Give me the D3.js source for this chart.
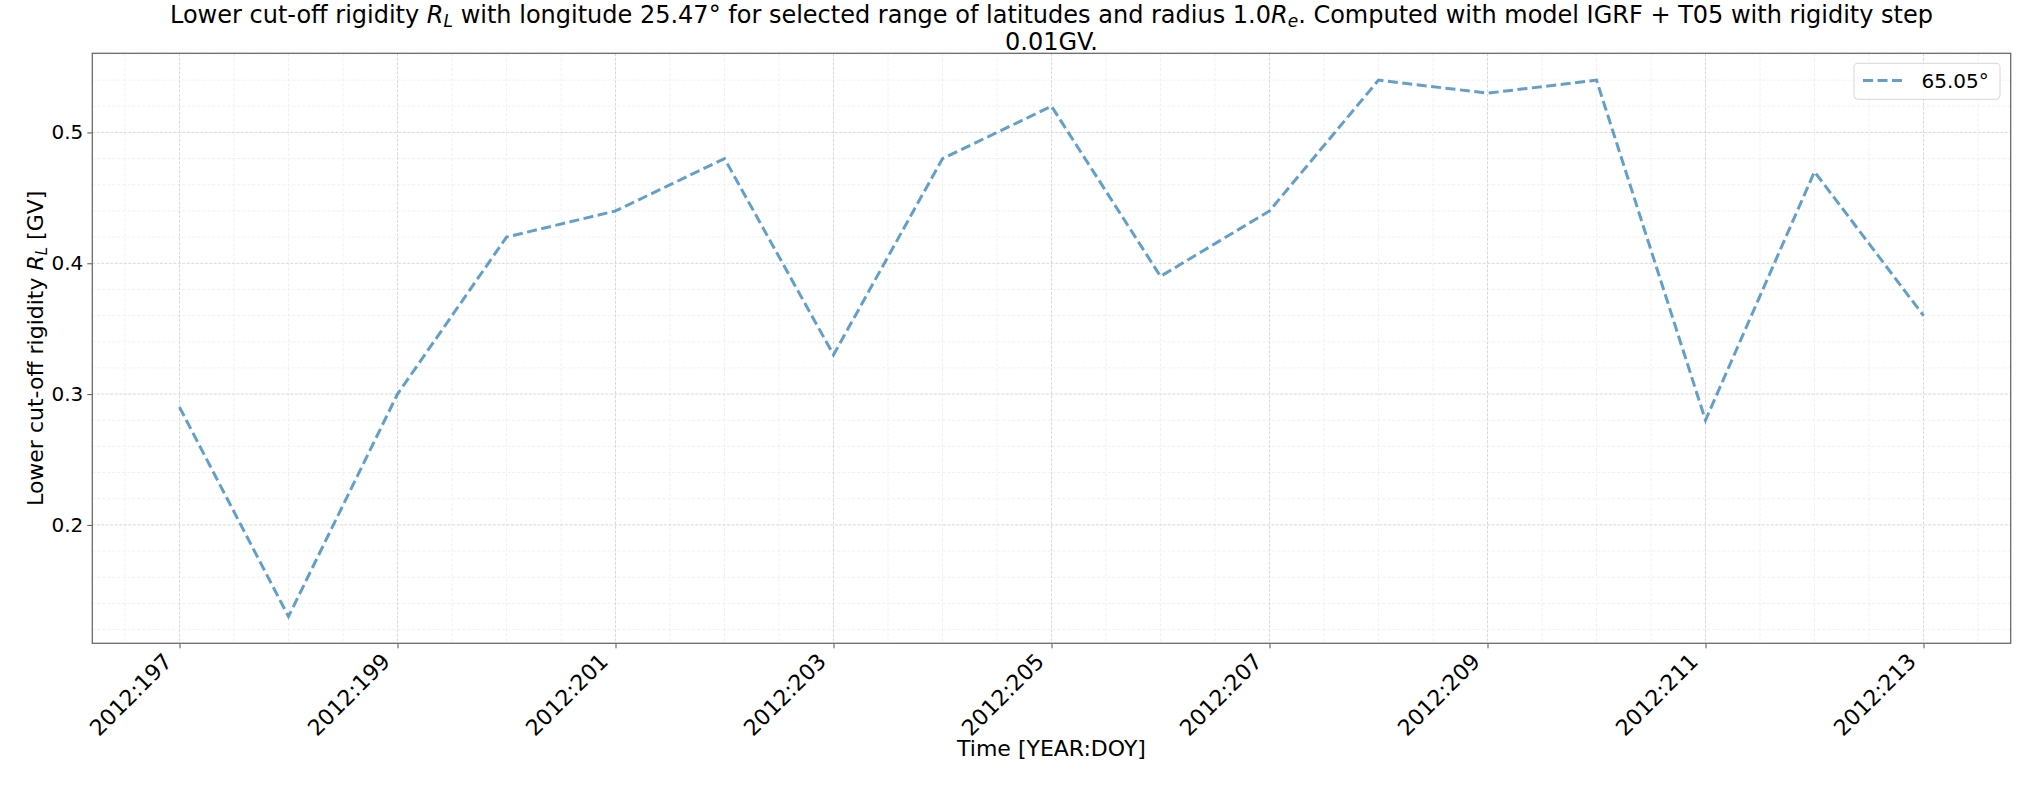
<!DOCTYPE html>
<html>
<head>
<meta charset="utf-8">
<script src="https://cdn.jsdelivr.net/npm/d3@7/dist/d3.min.js"></script>
<style>
  html, body { margin: 0; padding: 0; background: #fff; }
  svg { display: block; font-family: "DejaVu Sans", sans-serif; }
</style>
</head>
<body>
<svg id="chart" width="2035" height="785"></svg>
<script>
// ---- data ----
const days = [197, 198, 199, 200, 201, 202, 203, 204, 205, 206, 207, 208, 209, 210, 211, 212, 213];
const rigidity = [0.29, 0.13, 0.30, 0.42, 0.44, 0.48, 0.33, 0.48, 0.52, 0.39, 0.44, 0.54, 0.53, 0.54, 0.28, 0.47, 0.36];
const year = 2012;
const xTickDays = [197, 199, 201, 203, 205, 207, 209, 211, 213];
const yTicks = [0.2, 0.3, 0.4, 0.5];
const seriesLabel = "65.05°";

// ---- layout ----
const W = 2035, H = 785;
const m = { left: 92.3, right: 2035 - 2010.7, top: 53.3, bottom: 785 - 643.3 };
const svg = d3.select("#chart");

const xMin = d3.min(days), xMax = d3.max(days);
const xPad = (xMax - xMin) * 0.05;
const yMin = d3.min(rigidity), yMax = d3.max(rigidity);
const yPad = (yMax - yMin) * 0.05;

const x = d3.scaleLinear().domain([xMin - xPad, xMax + xPad]).range([m.left, W - m.right]);
const y = d3.scaleLinear().domain([yMin - yPad, yMax + yPad]).range([H - m.bottom, m.top]);

// minor ticks
const xMinor = d3.range(Math.ceil((xMin - xPad) * 2) / 2, xMax + xPad, 0.5).filter(d => !xTickDays.includes(d));
const yMinor = d3.range(0.12, yMax + yPad, 0.02).map(v => +v.toFixed(2)).filter(v => !yTicks.some(t => Math.abs(t - v) < 1e-9));

const grid = svg.append("g");
grid.selectAll(".xmin").data(xMinor).enter().append("line")
  .attr("x1", d => x(d)).attr("x2", d => x(d)).attr("y1", m.top).attr("y2", H - m.bottom)
  .attr("stroke", "#ececec").attr("stroke-width", 0.8).attr("stroke-dasharray", "3,2");
grid.selectAll(".ymin").data(yMinor).enter().append("line")
  .attr("y1", d => y(d)).attr("y2", d => y(d)).attr("x1", m.left).attr("x2", W - m.right)
  .attr("stroke", "#ececec").attr("stroke-width", 0.8).attr("stroke-dasharray", "3,2");
grid.selectAll(".xmaj").data(xTickDays).enter().append("line")
  .attr("x1", d => x(d)).attr("x2", d => x(d)).attr("y1", m.top).attr("y2", H - m.bottom)
  .attr("stroke", "#cfcfcf").attr("stroke-width", 0.8).attr("stroke-dasharray", "3,1.5");
grid.selectAll(".ymaj").data(yTicks).enter().append("line")
  .attr("y1", d => y(d)).attr("y2", d => y(d)).attr("x1", m.left).attr("x2", W - m.right)
  .attr("stroke", "#cfcfcf").attr("stroke-width", 0.8).attr("stroke-dasharray", "3,1.5");

// axes
const xAxis = d3.axisBottom(x).tickValues(xTickDays).tickSize(5).tickPadding(3)
  .tickFormat(d => `${year}:${d}`);
const gx = svg.append("g").attr("transform", `translate(0,${H - m.bottom})`).call(xAxis)
  .attr("font-size", null).attr("font-family", null);
gx.select(".domain").remove();
gx.selectAll(".tick line").attr("stroke", "#555").attr("stroke-width", 1);
gx.selectAll(".tick text")
  .style("font-size", "22px").attr("fill", "#000")
  .attr("text-anchor", "end")
  .attr("y", 0).attr("dy", 0)
  .attr("transform", "translate(-6.5,19.5) rotate(-45)");

const yAxis = d3.axisLeft(y).tickValues(yTicks).tickSize(5).tickPadding(4).tickFormat(d3.format(".1f"));
const gy = svg.append("g").attr("transform", `translate(${m.left},0)`).call(yAxis)
  .attr("font-size", null).attr("font-family", null);
gy.select(".domain").remove();
gy.selectAll(".tick line").attr("stroke", "#555").attr("stroke-width", 1);
gy.selectAll(".tick text").style("font-size", "20px").attr("fill", "#000");

// frame
svg.append("rect").attr("x", m.left).attr("y", m.top)
  .attr("width", W - m.left - m.right).attr("height", H - m.top - m.bottom)
  .attr("fill", "none").attr("stroke", "#6b6b6b").attr("stroke-width", 1.3);

// line
const line = d3.line().x((d, i) => x(days[i])).y(d => y(d));
svg.append("path").datum(rigidity).attr("d", line)
  .attr("fill", "none").attr("stroke", "#1f77b4").attr("stroke-opacity", 0.7)
  .attr("stroke-width", 3).attr("stroke-dasharray", "10,4.5");

// legend
const lg = svg.append("g");
lg.append("rect").attr("x", 1854).attr("y", 63.3).attr("width", 146).attr("height", 36)
  .attr("rx", 4).attr("fill", "#fff").attr("fill-opacity", 0.8)
  .attr("stroke", "#d6d6d6").attr("stroke-width", 1);
lg.append("line").attr("x1", 1863).attr("x2", 1903).attr("y1", 80.5).attr("y2", 80.5)
  .attr("stroke", "#1f77b4").attr("stroke-opacity", 0.7).attr("stroke-width", 3)
  .attr("stroke-dasharray", "10,4.5");
lg.append("text").attr("x", 1921.5).attr("y", 88.3).style("font-size", "20px").text(seriesLabel);

// axis labels
svg.append("text").attr("x", (m.left + W - m.right) / 2).attr("y", 756)
  .attr("text-anchor", "middle").style("font-size", "22px").text("Time [YEAR:DOY]");
const yl = svg.append("text").attr("transform", `translate(43.3,${(m.top + H - m.bottom) / 2}) rotate(-90)`)
  .attr("text-anchor", "middle").style("font-size", "22px");
yl.append("tspan").text("Lower cut-off rigidity ");
yl.append("tspan").attr("font-style", "italic").text("R");
yl.append("tspan").attr("font-style", "italic").style("font-size", "15px").attr("dy", 4).text("L");
yl.append("tspan").attr("dy", -4).text(" [GV]");

// title
const cx = (m.left + W - m.right) / 2;
const t1 = svg.append("text").attr("x", cx).attr("y", 22.5).attr("text-anchor", "middle").style("font-size", "24px");
t1.append("tspan").text("Lower cut-off rigidity ");
t1.append("tspan").attr("font-style", "italic").text("R");
t1.append("tspan").attr("font-style", "italic").style("font-size", "17px").attr("dy", 4).text("L");
t1.append("tspan").attr("dy", -4).text(" with longitude 25.47° for selected range of latitudes and radius 1.0");
t1.append("tspan").attr("font-style", "italic").text("R");
t1.append("tspan").attr("font-style", "italic").style("font-size", "17px").attr("dy", 4).text("e");
t1.append("tspan").attr("dy", -4).text(". Computed with model IGRF + T05 with rigidity step");
svg.append("text").attr("x", cx).attr("y", 50).attr("text-anchor", "middle").style("font-size", "24px").text("0.01GV.");
</script>
</body>
</html>
